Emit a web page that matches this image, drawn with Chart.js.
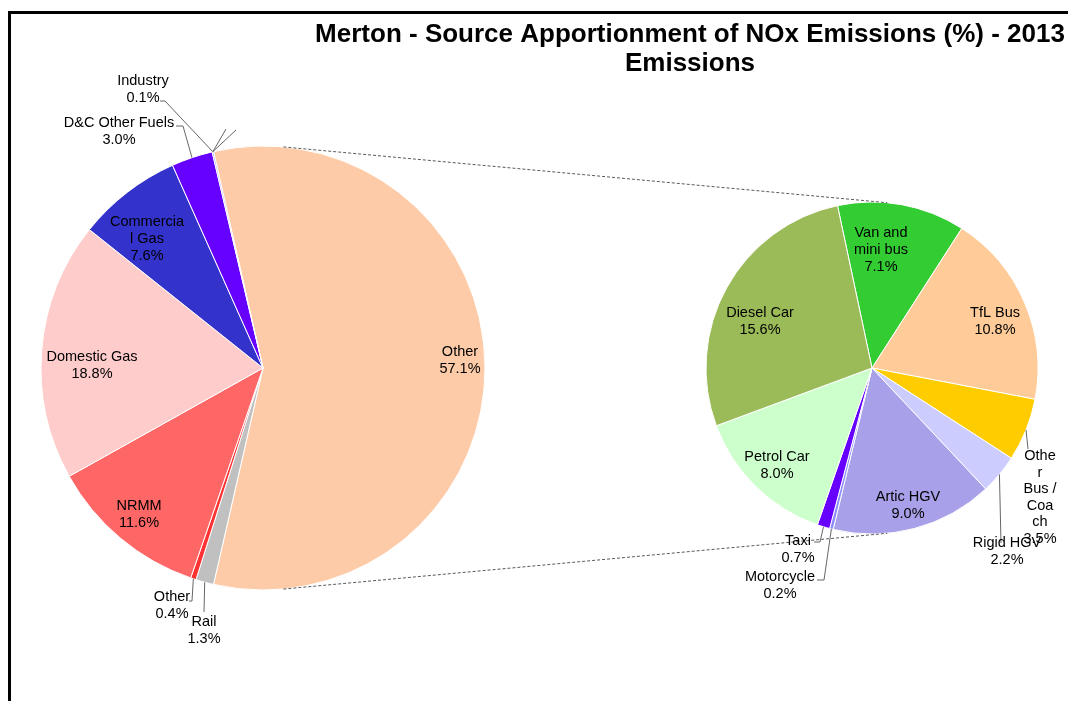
<!DOCTYPE html>
<html>
<head>
<meta charset="utf-8">
<title>Merton NOx source apportionment</title>
<script src="https://cdn.jsdelivr.net/npm/chart.js@4/dist/chart.umd.min.js"></script>
<style>
  html, body { margin: 0; padding: 0; background: #fff; }
  #wrap { position: relative; width: 1068px; height: 701px; overflow: hidden; }
  #frame { position: absolute; left: 8px; top: 11px; width: 1100px; height: 720px;
           border-left: 3px solid #000; border-top: 3px solid #000; }
  canvas { position: absolute; left: 0; top: 0; }
</style>
</head>
<body>
<div id="wrap">
  <div id="frame"></div>
  <canvas id="main-pie" width="1068" height="701"></canvas>
  <canvas id="sub-pie" width="1068" height="701"></canvas>
</div>
<script>
const titleLines = ["Merton - Source Apportionment of NOx Emissions (%) - 2013", "Emissions"];

// main pie (clockwise, "Other" is the split slice)
const mainLabels = ["Other", "Rail", "Other", "NRMM", "Domestic Gas", "Commercial Gas", "D&C Other Fuels", "Industry"];
const mainValues = [57.1, 1.3, 0.4, 11.6, 18.8, 7.6, 3.0, 0.1];
const mainColors = ["#FDCBA8", "#C0C0C0", "#FF3333", "#FF6666", "#FFCCCC", "#3333CC", "#6600FF", "#9999FF"];

// secondary pie: breakdown of "Other" (road transport)
const subLabels = ["Van and mini bus", "TfL Bus", "Other Bus / Coach", "Rigid HGV", "Artic HGV", "Motorcycle", "Taxi", "Petrol Car", "Diesel Car"];
const subValues = [7.1, 10.8, 3.5, 2.2, 9.0, 0.2, 0.7, 8.0, 15.6];
const subColors = ["#33CC33", "#FFCC99", "#FFCC00", "#CCCCFF", "#A8A0E8", "#8C8CFF", "#6600FF", "#CCFFCC", "#9BBB59"];

// how the label text wraps, as in the picture
const mainText = [["Other"], ["Rail"], ["Other"], ["NRMM"], ["Domestic Gas"], ["Commercia", "l Gas"], ["D&C Other Fuels"], ["Industry"]];
const subText = [["Van and", "mini bus"], ["TfL Bus"], ["Othe", "r", "Bus /", "Coa", "ch"], ["Rigid HGV"], ["Artic HGV"], ["Motorcycle"], ["Taxi"], ["Petrol Car"], ["Diesel Car"]];

// label placement (text centre of first line, line step, leader elbows)
const mainLayout = [
  { x: 460, y: 352 },
  { x: 204, y: 622, leader: [{ x: 204, y: 612 }] },
  { x: 172, y: 597, leader: [{ x: 192, y: 601 }, { x: 189 }] },
  { x: 139, y: 506 },
  { x: 92, y: 357 },
  { x: 147, y: 222 },
  { x: 119, y: 123, leader: [{ x: 183, y: 126 }, { x: 176 }], step: 17 },
  { x: 143, y: 81, leader: [{ x: 165, y: 101 }, { x: 160 }], spokes: [{ x: 226, y: 129 }, { x: 236, y: 130 }] }
];
const subLayout = [
  { x: 881, y: 233 },
  { x: 995, y: 313 },
  { x: 1040, y: 456, step: 16.6, leader: [{ x: 1028, y: 449 }] },
  { x: 1007, y: 543, leader: [{ x: 1001, y: 543 }] },
  { x: 908, y: 497 },
  { x: 780, y: 577, leader: [{ x: 824, y: 580 }, { x: 817 }] },
  { x: 798, y: 541, leader: [{ x: 820, y: 542 }, { x: 814 }] },
  { x: 777, y: 457 },
  { x: 760, y: 313 }
];

const labelFont = "14.5px 'Liberation Sans', Arial, sans-serif";
const mainTotal = mainValues.reduce((a, b) => a + b, 0);
const mainRotation = 90 - (mainValues[0] / mainTotal) * 180;
const subRotation = -12;

function midPoint(arc, r) {
  const mid = (arc.startAngle + arc.endAngle) / 2;
  return { x: arc.x + Math.cos(mid) * r, y: arc.y + Math.sin(mid) * r };
}

function drawLabels(chart, values, texts, layout) {
  const ctx = chart.ctx;
  const arcs = chart.getDatasetMeta(0).data;
  ctx.save();
  ctx.font = labelFont;
  ctx.fillStyle = "#000";
  ctx.textAlign = "center";
  ctx.textBaseline = "middle";
  ctx.strokeStyle = "#666";
  ctx.lineWidth = 1;
  arcs.forEach((arc, i) => {
    const pos = layout[i];
    if (pos.leader || pos.spokes) {
      const start = midPoint(arc, arc.outerRadius);
      if (pos.leader) {
        ctx.beginPath();
        ctx.moveTo(start.x, start.y);
        let prev = start;
        pos.leader.forEach(p => {
          const q = { x: p.x ?? prev.x, y: p.y ?? prev.y };
          ctx.lineTo(q.x, q.y);
          prev = q;
        });
        ctx.stroke();
      }
      (pos.spokes || []).forEach(p => {
        ctx.beginPath();
        ctx.moveTo(start.x, start.y);
        ctx.lineTo(p.x, p.y);
        ctx.stroke();
      });
    }
    const lines = texts[i].concat([values[i].toFixed(1) + "%"]);
    const step = pos.step || 16.8;
    lines.forEach((t, k) => ctx.fillText(t, pos.x, pos.y + k * step));
  });
  ctx.restore();
}

const mainPlugin = {
  id: "mainDecor",
  afterDraw(chart) {
    const ctx = chart.ctx;
    ctx.save();
    ctx.font = "bold 26px 'Liberation Sans', Arial, sans-serif";
    ctx.fillStyle = "#000";
    ctx.textAlign = "center";
    ctx.textBaseline = "middle";
    ctx.fillText(titleLines[0], 690, 35);
    ctx.fillText(titleLines[1], 690, 64);
    ctx.restore();
    drawLabels(chart, mainValues, mainText, mainLayout);
  }
};

const mainChart = new Chart(document.getElementById("main-pie"), {
  type: "pie",
  data: {
    labels: mainLabels,
    datasets: [{
      data: mainValues,
      backgroundColor: mainColors,
      borderColor: "#fff",
      borderWidth: 1
    }]
  },
  options: {
    responsive: false,
    animation: false,
    events: [],
    rotation: mainRotation,
    radius: 222,
    layout: { padding: { left: 41, right: 583, top: 146, bottom: 111 } },
    plugins: { legend: { display: false }, tooltip: { enabled: false }, title: { display: false } }
  },
  plugins: [mainPlugin]
});

const subPlugin = {
  id: "subDecor",
  afterDraw(chart) {
    const ctx = chart.ctx;
    // dotted tangent lines joining the two pies
    const a = mainChart.getDatasetMeta(0).data[0];
    const b = chart.getDatasetMeta(0).data[0];
    const dx = b.x - a.x, dy = b.y - a.y;
    const d = Math.hypot(dx, dy);
    const base = Math.atan2(dy, dx);
    const phi = Math.acos((a.outerRadius - b.outerRadius) / d);
    ctx.save();
    ctx.strokeStyle = "#595959";
    ctx.lineWidth = 1;
    ctx.setLineDash([3, 2]);
    [base - phi, base + phi].forEach(t => {
      ctx.beginPath();
      ctx.moveTo(a.x + Math.cos(t) * a.outerRadius, a.y + Math.sin(t) * a.outerRadius);
      ctx.lineTo(b.x + Math.cos(t) * b.outerRadius, b.y + Math.sin(t) * b.outerRadius);
      ctx.stroke();
    });
    ctx.restore();
    drawLabels(chart, subValues, subText, subLayout);
  }
};

new Chart(document.getElementById("sub-pie"), {
  type: "pie",
  data: {
    labels: subLabels,
    datasets: [{
      data: subValues,
      backgroundColor: subColors,
      borderColor: "#fff",
      borderWidth: 1
    }]
  },
  options: {
    responsive: false,
    animation: false,
    events: [],
    rotation: subRotation,
    radius: 166,
    layout: { padding: { left: 706, right: 30, top: 202, bottom: 167 } },
    plugins: { legend: { display: false }, tooltip: { enabled: false }, title: { display: false } }
  },
  plugins: [subPlugin]
});
</script>
</body>
</html>
